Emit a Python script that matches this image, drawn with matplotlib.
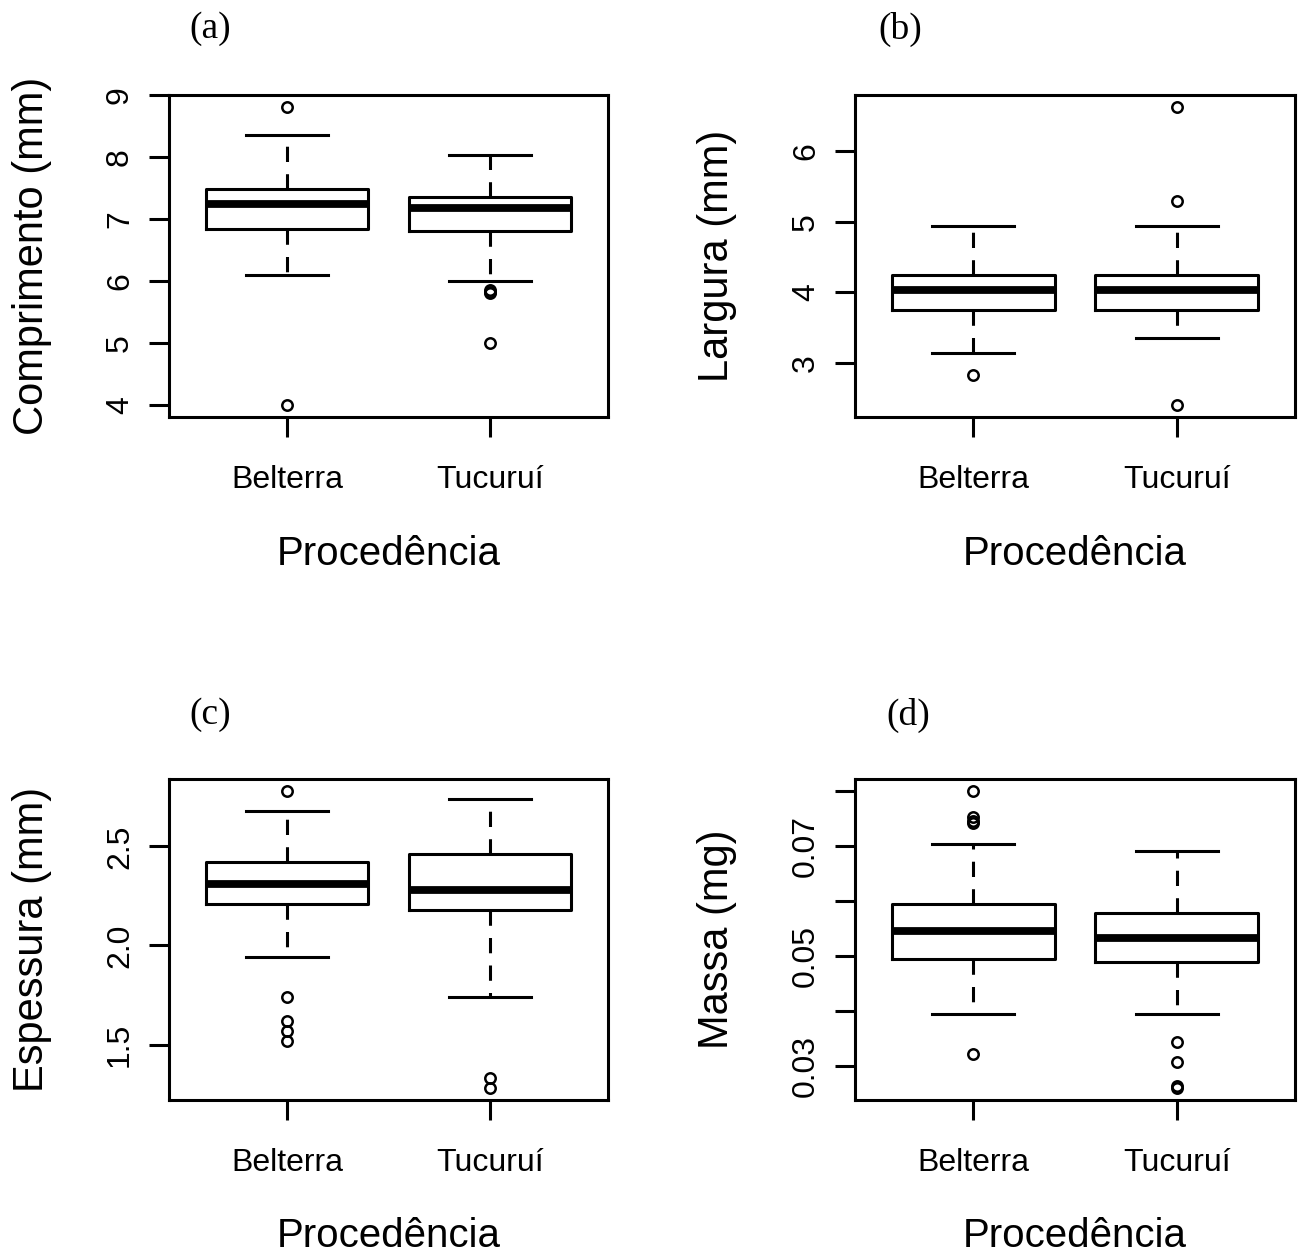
import matplotlib
matplotlib.use("Agg")
import matplotlib.pyplot as plt

# ---------------- data ----------------
groups = ["Belterra", "Tucuruí"]
panel_letters = ["(a)", "(b)", "(c)", "(d)"]
ylabels = ["Comprimento (mm)", "Largura (mm)", "Espessura (mm)", "Massa (mg)"]
xlabel = "Procedência"

# (a) Comprimento: [whislo, q1, med, q3, whishi]
comp_belterra = [6.09, 6.84, 7.24, 7.49, 8.36]
comp_tucurui = [6.00, 6.80, 7.17, 7.36, 8.04]
comp_out_belterra = [8.80, 4.00]
comp_out_tucurui = [5.85, 5.82, 5.80, 5.00]

# (b) Largura
larg_belterra = [3.14, 3.75, 4.03, 4.25, 4.94]
larg_tucurui = [3.35, 3.75, 4.03, 4.25, 4.94]
larg_out_belterra = [2.83]
larg_out_tucurui = [6.63, 5.29, 2.40]

# (c) Espessura
esp_belterra = [1.94, 2.21, 2.31, 2.42, 2.68]
esp_tucurui = [1.74, 2.18, 2.28, 2.46, 2.74]
esp_out_belterra = [2.78, 1.74, 1.62, 1.57, 1.52]
esp_out_tucurui = [1.33, 1.28]

# (d) Massa
massa_belterra = [0.0394, 0.0494, 0.0546, 0.0594, 0.0704]
massa_tucurui = [0.0394, 0.0489, 0.0533, 0.0579, 0.0691]
massa_out_belterra = [0.0800, 0.0753, 0.0746, 0.0741, 0.0322]
massa_out_tucurui = [0.0344, 0.0308, 0.0263, 0.0260]

# tick values and labels
ticks_a = [4, 5, 6, 7, 8, 9]
ticklabels_a = ["4", "5", "6", "7", "8", "9"]
ticks_b = [3, 4, 5, 6]
ticklabels_b = ["3", "4", "5", "6"]
ticks_c = [1.5, 2.0, 2.5]
ticklabels_c = ["1.5", "2.0", "2.5"]
ticks_d = [0.03, 0.04, 0.05, 0.06, 0.07, 0.08]
ticklabels_d = ["0.03", "", "0.05", "", "0.07", ""]

panels = [
    (comp_belterra, comp_tucurui, comp_out_belterra, comp_out_tucurui, ticks_a, ticklabels_a),
    (larg_belterra, larg_tucurui, larg_out_belterra, larg_out_tucurui, ticks_b, ticklabels_b),
    (esp_belterra, esp_tucurui, esp_out_belterra, esp_out_tucurui, ticks_c, ticklabels_c),
    (massa_belterra, massa_tucurui, massa_out_belterra, massa_out_tucurui, ticks_d, ticklabels_d),
]

# ---------------- layout ----------------
W, H = 1301, 1258
fig = plt.figure(figsize=(W / 100, H / 100), dpi=100)
fig.patch.set_facecolor("white")

SANS = ["Liberation Sans", "DejaVu Sans"]
SERIF = ["Liberation Serif", "DejaVu Serif"]

# axes rectangles in pixels: left, top, right, bottom
rects_px = [
    (169, 95, 608, 417),
    (855, 95, 1295, 417),
    (169, 779, 608, 1100),
    (855, 779, 1295, 1100),
]
title_px = [(210, 29), (900, 29), (210, 715), (908, 715)]

LW = 2.2

for i, (b, t, ob, ot, ticks, tlabels) in enumerate(panels):
    l, tp, r, bt = rects_px[i]
    ax = fig.add_axes([l / W, 1 - bt / H, (r - l) / W, (bt - tp) / H])
    stats = []
    for name, s, o in zip(groups, (b, t), (ob, ot)):
        stats.append(dict(label=name, whislo=s[0], q1=s[1], med=s[2], q3=s[3],
                          whishi=s[4], fliers=o))
    ax.bxp(stats, positions=[1, 2], widths=0.8, capwidths=0.4,
           boxprops=dict(color="black", linewidth=LW),
           medianprops=dict(color="black", linewidth=5.6, solid_capstyle="butt"),
           whiskerprops=dict(color="black", linewidth=LW, linestyle=(0, (5, 4))),
           capprops=dict(color="black", linewidth=LW),
           flierprops=dict(marker="o", markerfacecolor="none", markeredgecolor="black",
                           markersize=7.5, markeredgewidth=1.8, linestyle="none"))
    allv = list(b) + list(t) + list(ob) + list(ot)
    lo, hi = min(allv), max(allv)
    ext = 0.04 * (hi - lo)
    ax.set_ylim(lo - ext, hi + ext)
    ax.set_xlim(0.42, 2.58)
    ax.set_yticks(ticks)
    ax.set_yticklabels(tlabels, family=SANS, fontsize=23, rotation=90, va="center")
    ax.set_xticks([1, 2])
    ax.set_xticklabels(groups, family=SANS, fontsize=23)
    ax.tick_params(axis="both", direction="out", length=14.5, width=LW, color="black")
    ax.tick_params(axis="x", pad=20)
    ax.tick_params(axis="y", pad=10)
    for sp in ax.spines.values():
        sp.set_linewidth(LW)
        sp.set_color("black")
    ax.set_ylabel(ylabels[i], family=SANS, fontsize=30, va="center")
    ax.yaxis.set_label_coords(-0.313, 0.5)
    ax.set_xlabel(xlabel, family=SANS, fontsize=29, va="center")
    ax.xaxis.set_label_coords(0.5, -0.425)
    tx, ty = title_px[i]
    fig.text(tx / W, 1 - ty / H, panel_letters[i], family=SERIF, fontsize=27,
             ha="center", va="center")

fig.savefig("out.png", dpi=100, facecolor="white")
